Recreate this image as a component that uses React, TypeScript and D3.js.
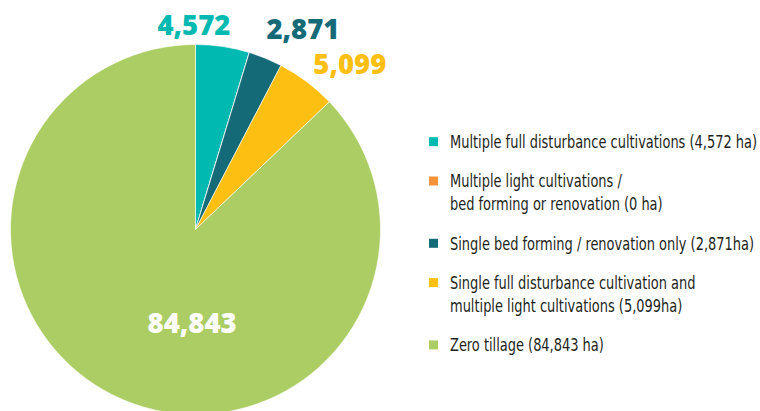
import React from "react";
import * as d3 from "d3";

const categories = [
  "Multiple full disturbance cultivations (4,572 ha)",
  "Multiple light cultivations /\nbed forming or renovation (0 ha)",
  "Single bed forming / renovation only (2,871ha)",
  "Single full disturbance cultivation and\nmultiple light cultivations (5,099ha)",
  "Zero tillage (84,843 ha)",
];
const values = [4572, 0, 2871, 5099, 84843];
const valueLabels = ["4,572", "", "2,871", "5,099", "84,843"];
const colors = ["#00B9B1", "#F6923A", "#156A77", "#FDC012", "#ABCD63"];
// label placement style: [radius, dx, dy]
const labelStyle: [number, number, number][] = [
  [207, -32, 0],
  [0, 0, 0],
  [226, 22, 9],
  [226, 18.5, 15.5],
  [100, 36, 1.5],
];
const labelFill = ["#00B9B1", "", "#156A77", "#FDC012", "#FFFFFF"];

const W = 760;
const H = 411;
const cx = 195.5;
const cy = 229.5;
const R = 185;

export default function App() {
  const pie = d3.pie<number>().sort(null).value((d) => d);
  const arcs = pie(values);
  const arcGen = d3.arc<d3.PieArcDatum<number>>().innerRadius(0).outerRadius(R);

  const legendX = 429;
  const textX = 450;
  let y = 141.7;
  const legendItems = categories.map((c, i) => {
    const lines = c.split("\n");
    const item = { lines, y, i };
    y += (lines.length - 1) * 23 + 39.3;
    return item;
  });

  return (
    <svg
      width={W}
      height={H}
      style={{ position: "absolute", left: 0, top: 0, background: "#fff" }}
    >
      <g transform={`translate(${cx},${cy})`}>
        {arcs.map((a, i) => (
          <path key={i} d={arcGen(a) || ""} fill={colors[i]} stroke="#fff" strokeWidth={0.6} />
        ))}
        {arcs.map((a, i) => {
          if (!valueLabels[i]) return null;
          const mid = (a.startAngle + a.endAngle) / 2;
          const [r, dx, dy] = labelStyle[i];
          const x = Math.sin(mid) * r + dx;
          const yy = -Math.cos(mid) * r + dy;
          return (
            <text
              key={"l" + i}
              x={x}
              y={yy}
              dy="0.36em"
              textAnchor="middle"
              fill={labelFill[i]}
              style={{ fontFamily: "'Open Sans', sans-serif", fontWeight: 800, fontSize: 27.5 }}
            >
              {valueLabels[i]}
            </text>
          );
        })}
      </g>
      {legendItems.map((it) => (
        <g key={"g" + it.i}>
          <rect x={legendX} y={it.y - 4.5} width={9} height={9} fill={colors[it.i]} />
          {it.lines.map((ln, j) => (
            <g key={j} transform={`translate(${textX},${it.y + j * 23}) scale(0.81,1)`}>
              <text
                x={0}
                y={0}
                dy="0.35em"
                fill="#231F20"
                style={{ fontFamily: "'DejaVu Sans', sans-serif", fontStretch: "condensed", fontSize: 17.8 }}
              >
                {ln}
              </text>
            </g>
          ))}
        </g>
      ))}
    </svg>
  );
}
